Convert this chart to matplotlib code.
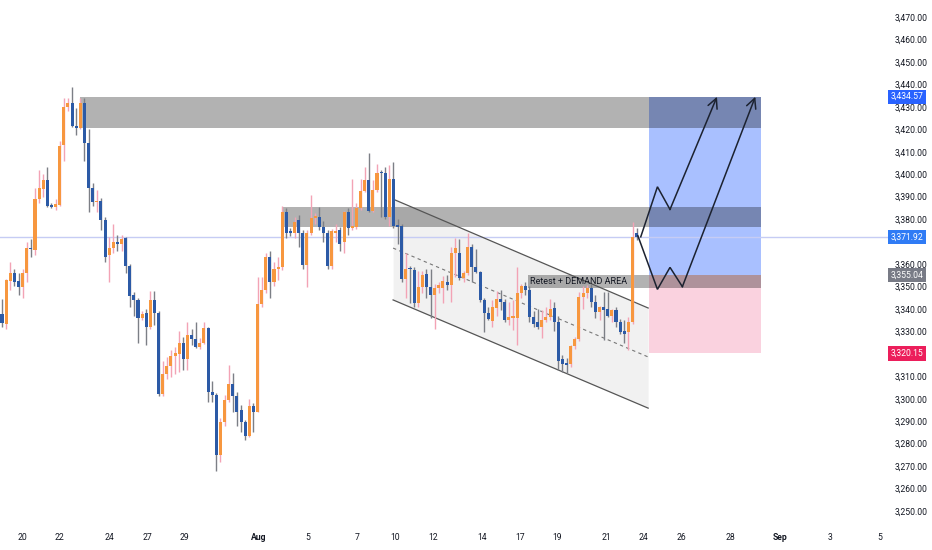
import matplotlib
matplotlib.use("Agg")
import matplotlib.pyplot as plt
import matplotlib.transforms as mtransforms
from matplotlib.ticker import FuncFormatter, MultipleLocator
import numpy as np

plt.rcParams['font.family'] = ['Roboto', 'DejaVu Sans']

# ---------------- data (4H candles) ----------------
opens = [3337.7,3333.3,3352.4,3356,3352.4,3349.7,3356,3367,3366.3,3389,
         3393.5,3397.5,3386.3,3385.5,3386.3,3412.9,3430,3431.7,3421.5,3420.6,
         3431.7,3414,3394,3387.5,3388,3379.6,3364,3367,3370,3369,
         3371.5,3359,3346,3344,3336,3338,3332,3344,3338,3302,
         3311,3314.5,3319,3320,3325,3317.5,3328.6,3326.6,3323,3325,
         3331.5,3303,3301.6,3275,3289.6,3299.4,3306.5,3301,3295,3289.6,
         3283.4,3296.7,3294,3342,3348.5,3363,3352,3358,3358.5,3383,
         3374.7,3374,3379.5,3374,3359.5,3374,3380.5,3381,3376.5,3374,
         3359,3374,3375,3369.7,3383,3376,3376.5,3385,3392.5,3397.5,
         3383.6,3393,3401,3400.5,3381,3398,3377,3377,3353.3,3358,
         3357.5,3342.6,3349.8,3355.5,3349.8,3346,3349.5,3349.5,3352,3350.5,
         3365,3365,3353.7,3356,3367.5,3358.5,3356.4,3344,3338,3334.5,
         3340.5,3344.5,3343,3335,3336,3336,3347,3350,3348.6,3336.4,
         3334,3332,3335,3336.5,3340.5,3334,3317.5,3316,3315.5,3323.5,
         3326.5,3345.5,3347,3349.5,3343,3338.6,3341,3340,3337,3339.5,
         3334,3330,3329.7,3334,3374]
highs = [3344.4,3353.5,3360.9,3358,3356,3358,3370,3371,3394,3402,
         3400,3403,3387,3389,3415,3434,3434,3439,3429.5,3434,
         3434,3420,3396,3393,3389.5,3381,3372,3378,3373,3373,
         3372,3360,3347.5,3345,3339,3340,3348,3348,3339,3317,
         3318.5,3321.5,3323,3330,3327.5,3334,3331,3334,3327,3334,
         3332,3308,3302.5,3291.6,3301.6,3315,3311.4,3303,3297,3290.5,
         3300,3298,3354,3354,3365,3366,3361,3363,3386,3385,
         3376,3381,3382,3375,3375,3390.7,3382.5,3385.4,3379,3375,
         3375.5,3378,3376.5,3383.5,3385,3398,3387,3398,3403,3409.4,
         3397.5,3404.5,3402,3403,3404,3405.5,3380,3378,3365,3359,
         3358.5,3357,3357,3358,3358,3351,3352,3354.5,3355,3367.5,
         3371.5,3371,3357,3374,3369,3366.7,3357,3345,3341,3344,
         3348,3348.6,3344.5,3343,3344,3358.6,3351,3352,3350,3339,
         3340,3339.5,3341,3344.5,3343,3337,3319.5,3318,3324,3327.5,
         3347.5,3350,3350.5,3351,3346,3341.5,3347.5,3347.5,3340,3341,
         3335.5,3335,3336.5,3378.5,3376]
lows = [3332,3331,3348.4,3350,3346,3345,3352,3363,3364,3387,
        3390,3385.5,3385,3384,3385.7,3406,3428,3421,3417.5,3420,
        3406,3383,3386,3383,3375,3361,3352,3365,3366,3366,
        3356,3341,3337,3325,3335,3324,3331,3333,3301,3301,
        3309,3309.5,3311,3312,3313,3313,3324,3322.5,3322,3324.5,
        3298.5,3298.5,3268,3272,3288,3298.5,3294,3288,3285,3281.6,
        3283,3285,3294,3341,3347,3345,3350,3353,3357.5,3371.5,
        3372.5,3371.5,3367.5,3358,3349.8,3373,3378,3375,3370,3358,
        3358,3370,3366,3365,3373,3375,3375.5,3384,3392,3383,
        3383,3392,3381,3380,3377,3376,3369,3352,3345,3342.5,
        3341,3341,3347,3345,3336,3331,3347,3342.6,3348.5,3343,
        3354,3353,3352,3355,3352,3356,3343,3329.5,3335,3332,
        3337,3339.6,3334,3333,3330.5,3324,3345,3346,3334,3332,
        3331,3327,3334,3335,3330,3313,3312,3311.4,3314,3322,
        3325.5,3340,3345,3341,3336,3335,3326,3336.5,3334,3332,
        3329,3325,3321.5,3333.5,3370.5]
closes = [3333.7,3352.9,3356,3352,3349.7,3356,3367,3366.5,3389,3394,
          3397.5,3386,3385.5,3386.7,3412.5,3430,3431.7,3421.5,3420.6,3431.7,
          3414,3394,3387.6,3388,3379.6,3363,3367,3370,3369,3371,
          3359,3345.7,3344,3336,3337.7,3332,3344,3338,3302,3311,
          3314.5,3319,3320.5,3325,3317.5,3328.6,3326.6,3323,3325,3331.5,
          3303,3301.6,3275,3289.6,3299.4,3306.5,3301,3294,3289.6,3283.4,
          3296.7,3294,3342,3348.5,3363,3352,3358,3358.5,3383,3374,
          3374,3378.7,3374,3359.5,3374,3380.5,3381,3376.5,3374,3359,
          3374.5,3374.7,3369,3383,3376,3377,3385,3392.5,3397.5,3383.6,
          3393,3400.5,3400.5,3381,3398,3377,3376.7,3353.3,3358,3357.7,
          3342.6,3349.8,3355,3349.8,3346,3349.5,3350.5,3352.5,3350.5,3365,
          3367,3353.7,3356,3367.5,3358.5,3356.4,3344,3338,3335.5,3341,
          3344.5,3343,3335,3336.5,3337,3347,3350,3348.6,3336.4,3333.5,
          3332,3335,3336.5,3340,3334,3317,3315.5,3315,3323.5,3326.5,
          3345.5,3347,3349.5,3343,3338.6,3341,3339.5,3337,3339.5,3334,
          3329.7,3329,3334,3372,3371.92]

# date axis labels (positions in candle-index units)
date_labels = ["20", "22", "24", "27", "29", "Aug", "5", "7", "10", "12", "14",
               "17", "19", "21", "24", "26", "28", "Sep", "3", "5"]
date_pos = [5.0, 14.0, 26.0, 35.2, 44.3, 62.3, 74.3, 86.2, 95.5, 104.5, 116.5,
            125.7, 134.7, 146.6, 155.6, 164.8, 176.7, 188.8, 201.0, 212.9]

# zones (index start, index end, price low, price high)
supply_zone = (19.0, 184.2, 3420.6, 3434.57)
mid_zone = (68.2, 184.2, 3376.5, 3385.4)
demand_zone = (127.7, 184.2, 3349.2, 3355.04)
target_price = 3434.57
entry_price = 3355.04
stop_price = 3320.15
last_price = 3371.92
pos_start, pos_end = 157.0, 184.2

# descending channel (index, price)
chan_x = [94.9, 156.8]
chan_upper = [3388.9, 3340.4]
chan_mid = [3367.1, 3318.6]
chan_lower = [3344.0, 3295.8]

# projected paths
path1_x = [155.0, 159.05, 162.1, 173.5]
path1_y = [3372.1, 3394.4, 3384.3, 3434.5]
path2_x = [154.3, 159.05, 162.1, 165.1, 182.8]
path2_y = [3372.6, 3348.7, 3358.5, 3349.9, 3434.5]

# ---------------- figure ----------------
fig = plt.figure(figsize=(9.32, 5.5), dpi=100)
ax = fig.add_axes([0, 24/550, 888/932, 526/550])
ax.set_xlim(-0.49, 215.0)
ax.set_ylim(3243.3, 3477.6)
for s in ax.spines.values():
    s.set_visible(False)

idx = np.arange(len(opens))
o = np.array(opens); h = np.array(highs); l = np.array(lows); c = np.array(closes)
up = c >= o

bull_body = '#f7973f'
bear_body = '#2c5aa6'
bull_wick = '#f3a3b5'
bear_wick = '#7c7f86'

def zone(z, color, alpha, zorder):
    ax.fill_between([z[0], z[1]], z[2], z[3], color=color, alpha=alpha, lw=0, zorder=zorder)

# channel
ax.fill_between(chan_x, chan_lower, chan_upper, color='#000000', alpha=0.055, lw=0, zorder=0.5)
ax.plot(chan_x, chan_upper, color='#555555', lw=0.9, zorder=1)
ax.plot(chan_x, chan_lower, color='#555555', lw=0.9, zorder=1)
ax.plot(chan_x, chan_mid, color='#777777', lw=0.8, ls=(0, (3, 3)), zorder=1)

# position boxes
ax.fill_between([pos_start, pos_end], entry_price, target_price, color='#2962ff', alpha=0.40, lw=0, zorder=0.6)
ax.fill_between([pos_start, pos_end], stop_price, entry_price, color='#e91e63', alpha=0.20, lw=0, zorder=0.6)

zone(supply_zone, '#000000', 0.30, 0.8)
zone(mid_zone, '#000000', 0.30, 0.8)
zone(demand_zone, '#000000', 0.30, 0.8)

# last price line
ax.axhline(last_price, color='#c6ccf4', lw=1, zorder=0.7)

# candles
ax.vlines(idx[up], l[up], h[up], color=bull_wick, lw=1, zorder=2)
ax.vlines(idx[~up], l[~up], h[~up], color=bear_wick, lw=1, zorder=2)
body_h = np.maximum(np.abs(c - o), 0.7)
body_b = np.minimum(o, c)
ax.bar(idx[up], body_h[up], bottom=body_b[up], width=0.74, color=bull_body, lw=0, zorder=3)
ax.bar(idx[~up], body_h[~up], bottom=body_b[~up], width=0.74, color=bear_body, lw=0, zorder=3)

# label
ax.text(128.2, 3352.2, "Retest + DEMAND AREA", fontsize=6.5, color='#131722',
        ha='left', va='center', zorder=6)

# projection paths
pc = '#1c2230'
ax.plot(path1_x[:-1], path1_y[:-1], color=pc, lw=1.1, zorder=5, solid_joinstyle='miter')
ax.annotate('', xy=(path1_x[-1], path1_y[-1]), xytext=(path1_x[-2], path1_y[-2]),
            arrowprops=dict(arrowstyle='->,head_length=0.7,head_width=0.35', color=pc, lw=1.1,
                            shrinkA=0, shrinkB=0), zorder=5)
ax.plot(path2_x[:-1], path2_y[:-1], color=pc, lw=1.1, zorder=5, solid_joinstyle='miter')
ax.annotate('', xy=(path2_x[-1], path2_y[-1]), xytext=(path2_x[-2], path2_y[-2]),
            arrowprops=dict(arrowstyle='->,head_length=0.7,head_width=0.35', color=pc, lw=1.1,
                            shrinkA=0, shrinkB=0), zorder=5)

# price labels shown as boxes on the scale
box_labels = [(target_price, '#2962ff'), (last_price, '#2f7bf5'),
              (entry_price, '#787b86'), (stop_price, '#ec1e5b')]

def price_fmt(v, p):
    # scale labels hidden underneath a price box are not drawn
    for bv, _ in box_labels:
        if abs(v - bv) < 2.5:
            return ""
    return f"{v:,.2f}"

# y axis (price scale on right)
ax.yaxis.tick_right()
ax.yaxis.set_major_locator(MultipleLocator(10))
ax.yaxis.set_major_formatter(FuncFormatter(price_fmt))
ax.tick_params(axis='y', length=0, pad=5, labelsize=6.2, labelcolor='#131722')

# x axis
ax.set_xticks(date_pos)
ax.set_xticklabels(date_labels)
ax.tick_params(axis='x', length=0, pad=5, labelsize=6.2, labelcolor='#131722')
for t in ax.get_xticklabels():
    if t.get_text() in ("Aug", "Sep"):
        t.set_fontweight('bold')

trans = mtransforms.blended_transform_factory(ax.transAxes, ax.transData)
for val, col in box_labels:
    ax.text(1.0 + 3/888, val, f"{val:,.2f}", transform=trans, ha='left', va='center',
            fontsize=6.2, color='white', zorder=10, clip_on=False,
            bbox=dict(boxstyle='square,pad=0.3', fc=col, ec='none'))

fig.savefig("out.png", dpi=100, facecolor='white')
